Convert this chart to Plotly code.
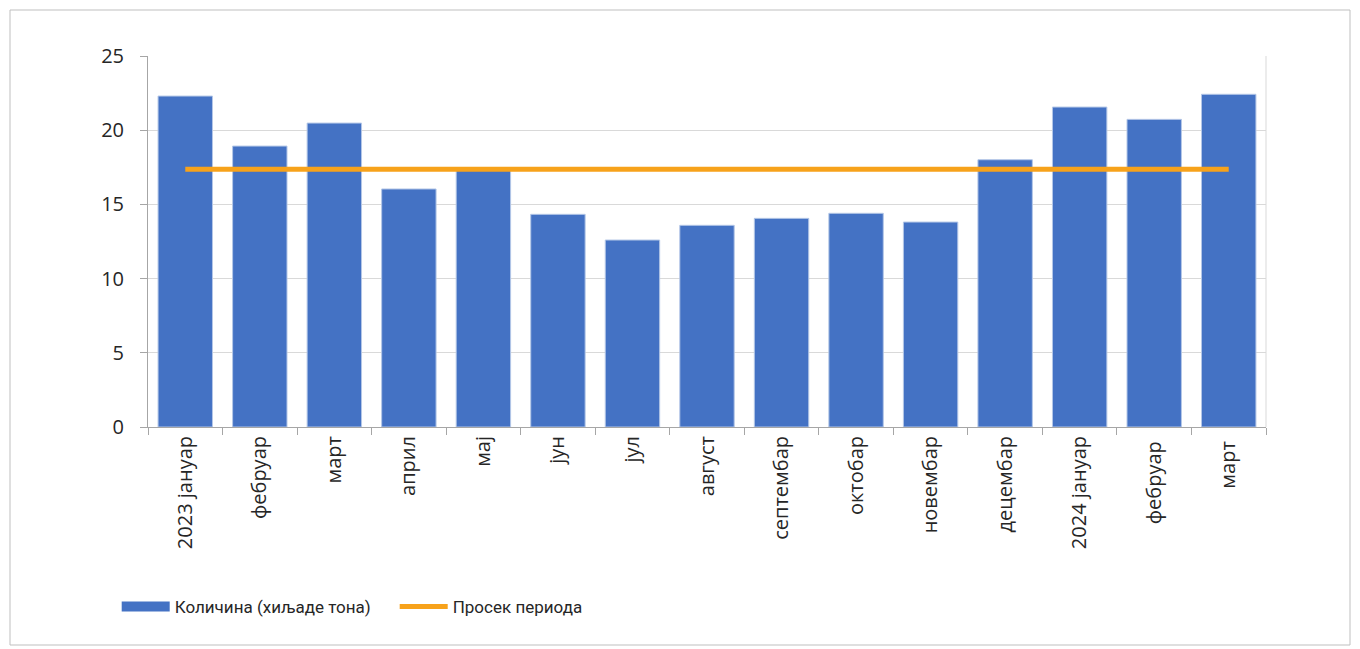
"""Monthly quantity bar chart with period average line"""
import plotly.graph_objs as go

# data
months = ['2023 јануар', 'фебруар', 'март', 'април', 'мај', 'јун', 'јул',
          'август', 'септембар', 'октобар', 'новембар', 'децембар',
          '2024 јануар', 'фебруар ', 'март ']
quantity = [22.3, 18.93, 20.48, 16.04, 17.3, 14.33, 12.6, 13.59, 14.06,
            14.4, 13.81, 18.01, 21.56, 20.73, 22.42]
period_avg = [17.37] * len(months)
y_ticks = [0, 5, 10, 15, 20, 25]

FONT = 'Open Sans, Noto Sans, sans-serif'
BLUE = '#4472C4'
ORANGE = '#F7A21B'

data = list()

# bars (legend entry drawn by a wide swatch below)
data.append(go.Bar(
    x=months,
    y=quantity,
    name='Количина (хиљаде тона)',
    showlegend=False,
    marker=dict(color=BLUE, line=dict(color='#b4c7e7', width=1)),
))

# legend swatch for the bars: a wide, thick line looks like Excel's box
data.append(go.Scatter(
    x=[None],
    y=[None],
    name='Количина (хиљаде тона)',
    mode='lines',
    line=dict(color=BLUE, width=15),
))

data.append(go.Scatter(
    x=months,
    y=period_avg,
    name='Просек периода',
    mode='lines',
    line=dict(color=ORANGE, width=5),
))

# page body has an 8px margin, so the figure is shrunk by that much
layout = go.Layout(
    width=1352,
    height=641,
    margin=dict(l=140, r=94, t=48, b=222),
    paper_bgcolor='white',
    plot_bgcolor='white',
    font=dict(family=FONT, size=18, color='#262626'),
    bargap=0.27,
    showlegend=True,

    xaxis=dict(
        type='category',
        showline=True,
        linecolor='#a6a6a6',
        linewidth=1,
        ticks='outside',
        tickson='boundaries',
        ticklen=7,
        tickcolor='#a6a6a6',
        tickangle=-90,
        tickfont=dict(size=20),
        showgrid=False,
    ),

    yaxis=dict(
        range=[0, 25],
        tickvals=y_ticks,
        showline=True,
        linecolor='#a6a6a6',
        linewidth=1,
        ticks='outside',
        ticklen=7,
        tickcolor='#a6a6a6',
        ticklabelstandoff=12,
        gridcolor='#d9d9d9',
        zeroline=False,
        tickfont=dict(size=20),
    ),

    legend=dict(
        orientation='h',
        x=-0.028,
        xanchor='left',
        y=-0.485,
        yanchor='middle',
        font=dict(family='Roboto, sans-serif', size=17),
        itemwidth=48,
        entrywidth=215,
        entrywidthmode='pixels',
        tracegroupgap=0,
    ),

    shapes=[
        # right edge of the plot area
        dict(type='line', xref='paper', yref='paper', x0=1, x1=1, y0=0, y1=1,
             line=dict(color='#d9d9d9', width=1)),
        # outer chart frame
        dict(type='rect', xref='paper', yref='paper',
             x0=-138 / 1118, x1=1 + 84 / 1118,
             y0=-218 / 371, y1=1 + 46 / 371,
             line=dict(color='#bfbfbf', width=1)),
    ],
)

fig = go.Figure(data=data, layout=layout)
fig.write_html('out.html')
